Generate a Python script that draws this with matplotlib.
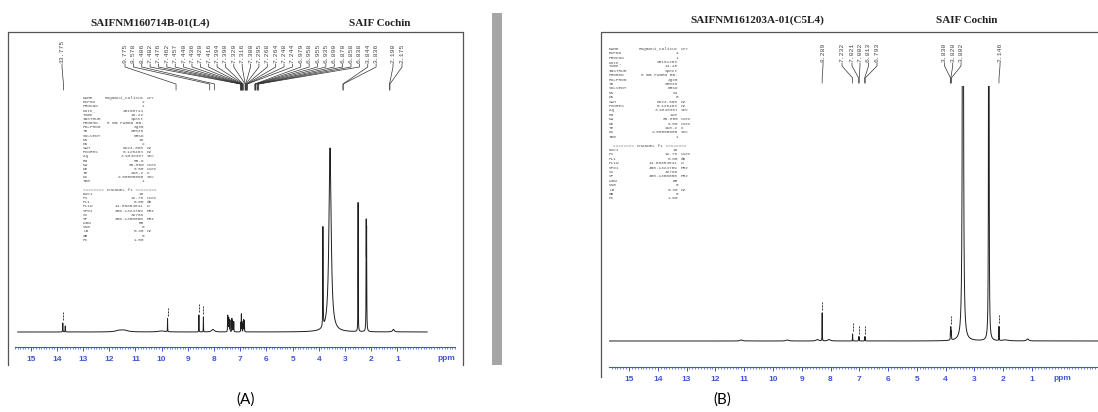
import numpy as np
import matplotlib
matplotlib.use("Agg")
import matplotlib.pyplot as plt
from matplotlib.patches import Rectangle

# ---------------- data ----------------
A_title = "SAIFNM160714B-01(L4)"
B_title = "SAIFNM161203A-01(C5L4)"
site_name = "SAIF Cochin"
panel_tags = ["(A)", "(B)"]
tick_values = list(range(15, 0, -1))

# spectrum A : peak positions (ppm), heights, half widths (ppm)
A_peak_ppm = [13.775, 13.68, 11.62, 11.42, 10.00, 9.775, 8.578, 8.406, 8.04,
              7.482, 7.476, 7.462, 7.457, 7.440, 7.436, 7.420, 7.416, 7.394, 7.390,
              7.320, 7.316, 7.300, 7.295, 7.268, 7.264, 7.248, 7.244,
              6.979, 6.958, 6.955, 6.935, 6.890, 6.870, 6.858, 6.838,
              3.844, 3.836, 3.57, 2.50, 2.190, 2.175, 1.15]
A_peak_height = [9, 6, 1.5, 1.5, 1, 13, 17, 15, 2.5,
                 11, 12, 9, 9, 8, 8, 7, 7, 7, 7,
                 8, 8, 7, 7, 6, 6, 6, 6,
                 9, 10, 10, 8, 10, 11, 10, 8,
                 78, 72, 184, 129, 100, 92, 2.5]
A_peak_width = [0.006, 0.006, 0.15, 0.15, 0.15, 0.004, 0.004, 0.004, 0.06,
                0.004, 0.004, 0.004, 0.004, 0.004, 0.004, 0.004, 0.004, 0.004, 0.004,
                0.004, 0.004, 0.004, 0.004, 0.004, 0.004, 0.004, 0.004,
                0.004, 0.004, 0.004, 0.004, 0.004, 0.004, 0.004, 0.004,
                0.005, 0.005, 0.05, 0.005, 0.006, 0.006, 0.04]

A_label_groups = [
    ["13.775"],
    ["9.775", "8.578", "8.406", "7.482", "7.476", "7.462", "7.457", "7.440",
     "7.436", "7.420", "7.416", "7.394", "7.390", "7.320", "7.316", "7.300",
     "7.295", "7.268", "7.264", "7.248", "7.244", "6.979", "6.958", "6.955",
     "6.935", "6.890", "6.870", "6.858", "6.838", "3.844", "3.836"],
    ["2.190", "2.175"],
]
A_marked_peaks = [13.775, 9.775, 8.578, 8.406]

# spectrum B
B_peak_ppm = [11.10, 9.50, 8.45, 8.289, 8.05, 7.232, 7.021, 7.002, 6.813, 6.793,
              3.830, 3.820, 3.802, 3.40, 2.50, 2.146, 1.90, 1.15]
B_peak_height = [1, 1, 1.5, 28, 1.5, 7, 4, 4, 4, 4,
                 9, 11, 8, 1200, 1200, 14, 1, 2]
B_peak_width = [0.05, 0.05, 0.05, 0.004, 0.05, 0.004, 0.004, 0.004, 0.004, 0.004,
                0.005, 0.005, 0.005, 0.012, 0.006, 0.004, 0.1, 0.04]

B_label_groups = [
    ["8.289"],
    ["7.232", "7.021", "7.002", "6.813", "6.793"],
    ["3.830", "3.820", "3.802"],
    ["2.146"],
]
B_marked_peaks = [8.289, 7.232, 7.021, 6.813, 3.820, 2.146]

param_names = ["NAME", "EXPNO", "PROCNO", "Date_", "Time", "INSTRUM", "PROBHD",
               "PULPROG", "TD", "SOLVENT", "NS", "DS", "SWH", "FIDRES", "AQ", "RG",
               "DW", "DE", "TE", "D1", "TD0", "", "", "NUC1", "P1", "PL1", "PL1W",
               "SFO1", "SI", "SF", "WDW", "SSB", "LB", "GB", "PC"]
param_units = ["UTY", "", "", "", "", "", "", "", "", "", "", "", "Hz", "Hz", "sec",
               "", "usec", "usec", "K", "sec", "", "", "", "", "usec", "dB", "W",
               "MHz", "", "MHz", "", "", "Hz", "", ""]
A_param_values = ["Rugmani_Calicut", "2", "1", "20160714", "16.22", "spect",
                  "5 mm PABBO BB-", "zg30", "65536", "DMSO", "16", "2",
                  "8223.685", "0.125483", "3.9846387", "80.6", "60.800", "6.50",
                  "298.2", "2.00000000", "1", "", "", "1H", "12.75", "0.00",
                  "14.06654541", "400.1324709", "32768", "400.1300000", "EM",
                  "0", "0.30", "0", "1.00"]
B_param_values = ["Rugmani_Calicut", "4", "1", "20161203", "14.45", "spect",
                  "5 mm PABBO BB-", "zg30", "65536", "DMSO", "64", "0",
                  "8223.685", "0.125483", "3.9846387", "128", "60.800", "6.50",
                  "298.2", "2.00000000", "1", "", "", "1H", "12.75", "0.00",
                  "14.06654541", "400.1324709", "32768", "400.1300000", "EM",
                  "0", "0.30", "0", "1.00"]
channel_line = "======== CHANNEL f1 ========"

# ---------------- layout ----------------
W, H = 1098, 412
fig = plt.figure(figsize=(W / 100, H / 100), dpi=100)
BLUE = "#4155cc"
INK = "#1e1e1e"

def box(x0, y0, x1, y1):
    return [x0 / W, 1 - y1 / H, (x1 - x0) / W, (y1 - y0) / H]

# panel geometry: pixel box, ppm limits, y limits (baseline = 0)
A_geom = dict(px=(15, 35, 455, 347), xlim=(15.497, -0.137), ylim=(-15, 297))
B_geom = dict(px=(609, 86, 1098, 367), xlim=(15.695, -1.293), ylim=(-26, 255))

def ppm2px(ppm, g):
    x0, _, x1, _ = g["px"]
    l0, l1 = g["xlim"]
    return x0 + (l0 - ppm) / (l0 - l1) * (x1 - x0)

def spectrum(x, pos, hts, wid):
    y = np.zeros_like(x)
    for p, h, w in zip(pos, hts, wid):
        y += h * w * w / ((x - p) ** 2 + w * w)
    return y

def draw_panel(g, pos, hts, wid, marked):
    ax = fig.add_axes(box(*g["px"]))
    ax.set_facecolor("none")
    x = np.linspace(g["xlim"][1], g["xlim"][0], 60000)
    y = spectrum(x, pos, hts, wid)
    ax.plot(x, y, color=INK, lw=0.7)
    for m in marked:
        v = spectrum(np.array([m]), pos, hts, wid)[0]
        ax.plot([m, m], [v + 3, v + 11], color=INK, lw=0.6, dashes=(2.5, 1.2))
    ax.set_xlim(*g["xlim"])
    ax.set_ylim(*g["ylim"])
    for s in ["top", "left", "right"]:
        ax.spines[s].set_visible(False)
    ax.spines["bottom"].set_color(BLUE)
    ax.spines["bottom"].set_linewidth(0.8)
    ax.set_yticks([])
    ax.set_xticks(tick_values)
    ax.set_xticks(np.round(np.arange(-1.2, 15.7, 0.1), 2), minor=True)
    ax.tick_params(axis="x", which="major", direction="out", length=3.2,
                   width=0.7, color=BLUE, pad=3.2, labelsize=6, labelcolor=BLUE)
    ax.tick_params(axis="x", which="minor", direction="out", length=1.5,
                   width=0.5, color=BLUE)
    for t in ax.get_xticklabels():
        t.set_fontfamily("Liberation Sans")
        t.set_fontweight("bold")
    return ax

axA = draw_panel(A_geom, A_peak_ppm, A_peak_height, A_peak_width, A_marked_peaks)
axB = draw_panel(B_geom, B_peak_ppm, B_peak_height, B_peak_width, B_marked_peaks)

ov = fig.add_axes([0, 0, 1, 1], zorder=5)
ov.set_facecolor("none")
ov.set_xlim(0, W)
ov.set_ylim(H, 0)
ov.axis("off")

# frames and separator bar
ov.plot([8, 8, 463, 463], [365, 32, 32, 365], color="#555555", lw=0.9)
ov.plot([601, 601, 1098], [377, 32, 32], color="#555555", lw=0.9)
ov.add_patch(Rectangle((492, 13), 10, 352, color="#a6a6a6", lw=0))

# titles
serif = dict(family="Liberation Serif", weight="bold", size=8, color="#222222",
             ha="center", va="center")
ov.text(150, 23, A_title, **serif)
ov.text(380, 23, site_name, **serif)
ov.text(757, 20, B_title, **serif)
ov.text(967, 20, site_name, **serif)

# ppm labels
ov.text(446, 359, "ppm", color=BLUE, fontsize=6, fontweight="bold",
        family="Liberation Sans", ha="center", va="center")
ov.text(1062, 379, "ppm", color=BLUE, fontsize=6, fontweight="bold",
        family="Liberation Sans", ha="center", va="center")

# panel tags
ov.text(246, 400, panel_tags[0], fontsize=11, family="Lato", ha="center", va="center")
ov.text(722, 400, panel_tags[1], fontsize=11, family="Lato", ha="center", va="center")

# peak labels with bracket lines
def draw_labels(labels, xs, g, yt, y1, y2, y3):
    for s, lx in zip(labels, xs):
        p = ppm2px(float(s), g)
        ov.text(lx, yt, s, rotation=90, ha="center", va="bottom", fontsize=4.6,
                family="Liberation Mono", color="#444444")
        ov.plot([lx, lx, p, p], [yt + 1, y1, y2, y3], color="#333333", lw=0.5)

A_label_x = [[62], list(125 + 8.37 * np.arange(31)), [393, 402]]
for grp, xs in zip(A_label_groups, A_label_x):
    draw_labels(grp, xs, A_geom, 63, 67, 84, 90)

B_label_x = [[823], [842, 852, 860, 868.5, 877], [944.5, 952.7, 961], [1000]]
for grp, xs in zip(B_label_groups, B_label_x):
    draw_labels(grp, xs, B_geom, 62, 66, 78, 83)

# acquisition parameter blocks
def draw_params(values, x_lab, x_val, y0, dy):
    mono = dict(family="Liberation Mono", fontsize=3.2, color="#555555", va="center")
    for i, (n, v, u) in enumerate(zip(param_names, values, param_units)):
        y = y0 + i * dy
        if n == "" and v == "" and i == 22:
            ov.text((x_lab + x_val + 13) / 2, y, channel_line, ha="center", **mono)
            continue
        ov.text(x_lab, y, n, ha="left", **mono)
        ov.text(x_val, y, v, ha="right", **mono)
        if u:
            ov.text(x_val + 3, y, u, ha="left", **mono)

draw_params(A_param_values, 83, 144, 98, 4.17)
draw_params(B_param_values, 609, 678, 48.8, 4.4)

fig.savefig("out.png", dpi=100)
